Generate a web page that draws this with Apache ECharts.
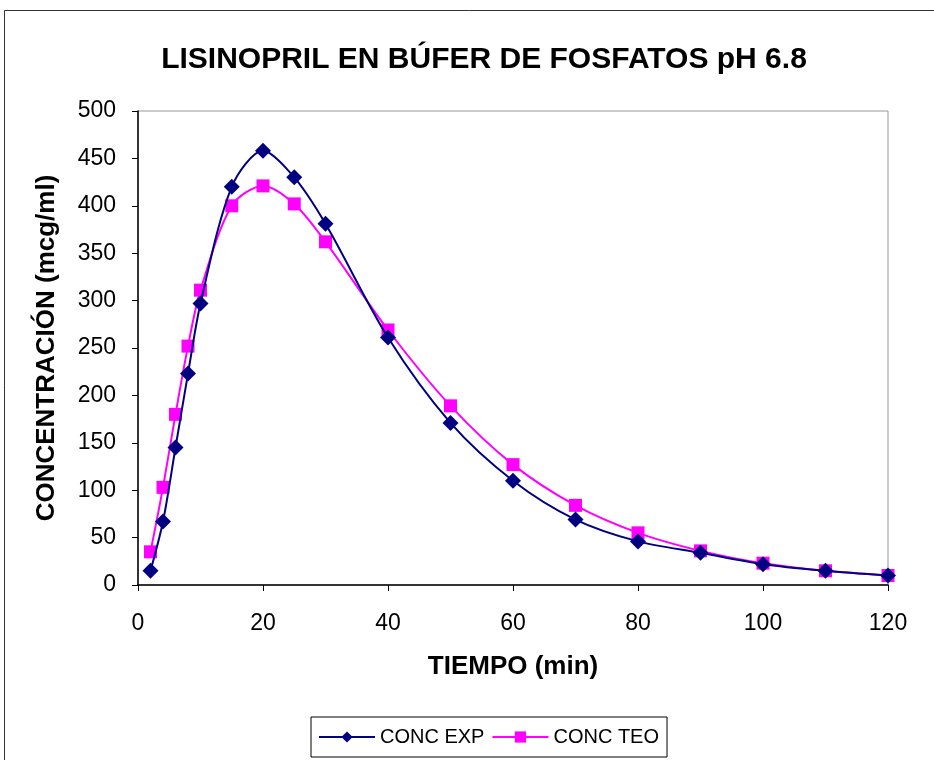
<!DOCTYPE html>
<html><head><meta charset="utf-8">
<script src="https://cdn.jsdelivr.net/npm/echarts@6/dist/echarts.min.js"></script>
<style>html,body{margin:0;padding:0;background:#fff}#c{width:934px;height:760px}</style>
</head><body><div id="c"></div>
<script>
var tiempo = [2,4,6,8,10,15,20,25,30,40,50,60,70,80,90,100,110,120];
var concExp = [15,67,145,223,297,420,458,430,381,261,171,110,69,46,34,22,15,10];
var concTeo = [35,103,180,252,311,400,421,402,362,269,189,127,84,55,36,23,15,10];
var seriesNames = ['CONC EXP','CONC TEO'];

function pairs(xs, ys){ return xs.map(function(x,i){ return [x, ys[i]]; }); }
var F = 'Liberation Sans, Arial, sans-serif';
var chart = echarts.init(document.getElementById('c'));
chart.setOption({
  backgroundColor:'#fff',
  animation:false,
  graphic:[{type:'rect', shape:{x:4.5,y:10.5,width:1000,height:1000}, style:{fill:'none',stroke:'#333',lineWidth:1}, z:-1}],
  title:{text:'LISINOPRIL EN BÚFER DE FOSFATOS pH 6.8', left:479, textAlign:'center', top:40,
    textStyle:{fontFamily:F,fontSize:30,fontWeight:'bold',color:'#000'}},
  grid:{left:138,right:46,top:111,bottom:175,show:true,borderColor:'#999',borderWidth:1,containLabel:false},
  xAxis:{type:'value',min:0,max:120,interval:20,name:'TIEMPO (min)',nameLocation:'middle',nameGap:69,
    nameTextStyle:{fontFamily:F,fontSize:26,fontWeight:'bold',color:'#000'},
    axisLine:{show:true,onZero:false,lineStyle:{color:'#000',width:1.5}},
    axisTick:{show:true,length:6,lineStyle:{color:'#000'}},
    axisLabel:{fontFamily:F,fontSize:23,color:'#000',margin:27},
    splitLine:{show:false}},
  yAxis:{type:'value',min:0,max:500,interval:50,name:'CONCENTRACIÓN (mcg/ml)',nameLocation:'middle',nameGap:78,
    nameTextStyle:{fontFamily:F,fontSize:26,fontWeight:'bold',color:'#000'},
    axisLine:{show:true,lineStyle:{color:'#000',width:1.5}},
    axisTick:{show:true,length:6,lineStyle:{color:'#000'}},
    axisLabel:{fontFamily:F,fontSize:23,color:'#000',margin:22},
    splitLine:{show:false}},
  legend:{bottom:3,left:311,itemWidth:56,itemHeight:14,itemGap:7,
    borderColor:'#000',borderWidth:1,padding:[10,8,10,7],
    textStyle:{fontFamily:F,fontSize:20,color:'#000'},
    data:seriesNames},
  series:[
    {name:seriesNames[0],type:'line',smooth:0.3,data:pairs(tiempo,concExp),
      symbol:'diamond',symbolSize:16,color:'#000080',
      lineStyle:{color:'#000080',width:2},itemStyle:{color:'#000080'},z:3},
    {name:seriesNames[1],type:'line',smooth:0.3,data:pairs(tiempo,concTeo),
      symbol:'rect',symbolSize:13,color:'#FF00FF',
      lineStyle:{color:'#FF00FF',width:2},itemStyle:{color:'#FF00FF'},z:2}
  ]
});
</script></body></html>
